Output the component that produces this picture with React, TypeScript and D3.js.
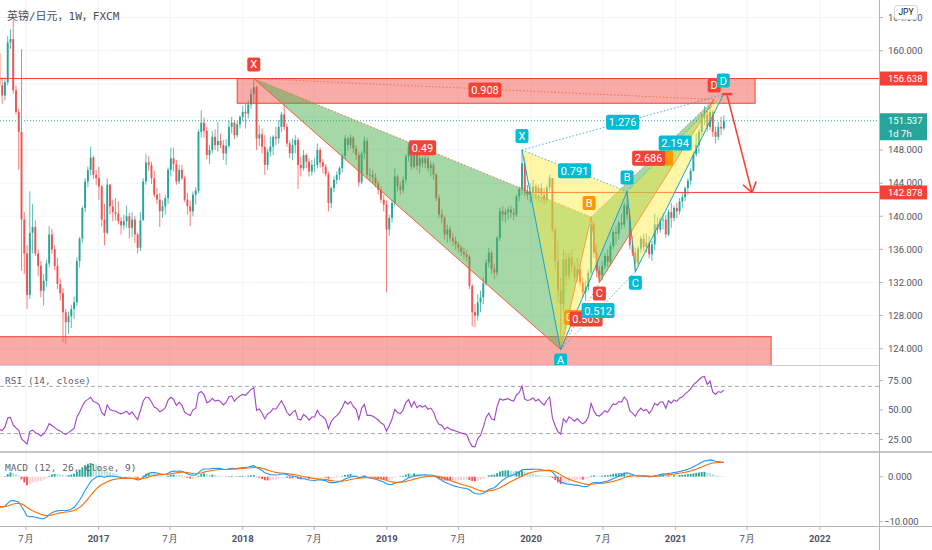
import React from 'react';
import * as d3 from 'd3';

// weekly GBP/JPY, first bar is the week of 2016-04-25
const firstWeek = new Date(2016, 3, 25);
const firstOpen = 159.7;

// closes before the visible range (Jun 2015 - Apr 2016), only used to warm up RSI / MACD
const warmupCloses = [
  194.5, 195.5, 193.8, 188.6, 188.0, 193.0, 192.3, 193.7, 194.0, 194.5,
  187.5, 186.0, 182.0, 185.5, 186.3, 182.8, 182.3, 183.7, 184.0, 186.2, 184.0, 185.6,
  186.3, 188.0, 185.7, 184.9, 181.5, 180.2, 178.6, 177.7, 171.0, 166.3, 168.7, 172.5,
  169.4, 164.3, 162.0, 157.5, 161.0, 162.2, 162.1, 160.2, 161.5, 153.7, 155.5, 159.7,
];

// [high, low, close] per week, open = previous close
const bars2016: [number, number, number][] = [
  [161.7, 155.0, 155.8], [156.8, 153.6, 154.6], [156.8, 154.0, 156.2], [161.8, 155.8, 161.0],
  [162.6, 160.2, 161.4], [163.7, 154.8, 155.2], [155.8, 152.3, 152.6], [153.0, 145.6, 150.2],
  [160.2, 133.4, 139.6], [140.5, 133.0, 135.5], [136.5, 128.8, 130.5], [143.0, 130.0, 138.0],
  [141.5, 135.5, 138.7], [139.5, 135.2, 135.5], [136.0, 132.8, 134.0], [134.6, 130.2, 131.0],
  [133.0, 129.2, 132.2], [134.8, 131.5, 134.3], [138.8, 133.8, 137.8], [138.5, 135.5, 136.0],
  [136.5, 133.5, 134.0], [135.0, 131.2, 131.8], [132.5, 129.8, 130.7], [131.3, 124.8, 128.4],
  [128.8, 124.6, 127.2], [128.5, 125.8, 127.9], [129.3, 126.5, 128.8], [130.3, 127.6, 129.6],
  [135.0, 129.2, 134.6], [137.5, 133.8, 137.3], [141.2, 136.8, 141.0], [144.6, 140.5, 144.2],
  [146.0, 143.5, 145.6], [148.4, 145.0, 147.1], [147.3, 144.5, 145.0], [145.6, 143.8, 144.6],
];
const bars2017: [number, number, number][] = [
  [146.0, 142.0, 143.6], [143.8, 138.8, 139.6], [141.5, 136.5, 138.0], [144.6, 137.8, 143.8],
  [143.9, 140.2, 141.2], [142.0, 139.4, 140.5], [142.2, 139.5, 140.3], [141.8, 139.0, 139.4],
  [139.9, 137.8, 138.9], [140.2, 138.4, 139.4], [141.3, 138.6, 140.0], [140.4, 137.3, 138.6],
  [140.5, 137.5, 139.6], [140.0, 136.8, 137.8], [138.0, 135.5, 136.2], [140.5, 135.8, 139.5],
  [144.6, 139.6, 144.2], [147.5, 143.8, 146.5], [147.3, 145.5, 146.2], [146.6, 143.9, 144.6],
  [145.5, 142.3, 142.6], [143.4, 141.5, 142.0], [142.8, 138.7, 140.6], [141.9, 139.8, 141.2],
  [142.6, 140.2, 142.2], [145.9, 141.5, 145.6], [148.3, 144.8, 147.0], [148.3, 145.4, 146.3],
  [146.8, 143.8, 144.2], [146.2, 143.9, 145.6], [146.2, 144.4, 144.6], [144.9, 141.7, 142.0],
  [142.8, 140.2, 141.2], [141.9, 138.8, 140.6], [143.0, 140.0, 142.6], [143.5, 141.4, 143.1],
  [150.5, 142.8, 150.2], [152.8, 149.5, 151.3], [151.9, 149.5, 150.3], [150.8, 146.9, 147.4],
  [148.6, 146.3, 148.0], [150.3, 147.6, 149.6], [150.5, 148.0, 148.6], [151.4, 147.8, 149.1],
  [150.0, 148.2, 148.6], [149.2, 146.8, 147.6], [149.3, 146.2, 148.5], [151.6, 148.2, 150.8],
  [152.0, 150.0, 151.3], [151.6, 149.3, 149.8], [151.5, 149.5, 151.1], [152.2, 150.6, 152.0],
];
const bars2018: [number, number, number][] = [
  [153.3, 151.5, 152.6], [153.6, 150.6, 152.4], [154.0, 151.8, 153.5], [155.4, 153.0, 154.8],
  [156.6, 153.6, 155.6], [155.8, 148.0, 149.4], [151.0, 148.5, 149.9], [150.6, 147.6, 148.4],
  [149.8, 145.0, 146.2], [148.2, 145.6, 147.8], [149.6, 147.2, 148.4], [149.8, 147.4, 149.6],
  [150.8, 148.6, 149.4], [151.6, 148.8, 150.8], [152.6, 150.2, 152.3], [153.5, 150.4, 150.8],
  [151.2, 148.4, 148.8], [149.2, 147.0, 147.6], [149.4, 146.8, 148.6], [149.8, 147.6, 149.2],
  [149.5, 143.3, 146.2], [147.2, 144.8, 145.8], [148.0, 145.5, 147.4], [147.6, 145.8, 146.6],
  [147.0, 144.8, 145.4], [146.8, 144.9, 146.2], [147.0, 145.3, 146.2], [148.8, 145.8, 148.0],
  [148.3, 145.9, 146.5], [146.9, 145.2, 146.0], [146.3, 144.8, 145.1], [145.4, 140.6, 141.6],
  [143.6, 141.0, 143.4], [144.8, 142.9, 144.4], [145.4, 143.9, 145.0], [146.0, 144.4, 145.8],
  [147.6, 145.3, 147.3], [149.8, 146.9, 149.4], [149.6, 147.9, 148.6], [149.9, 148.2, 149.5],
  [149.7, 147.6, 148.2], [148.6, 146.8, 147.4], [147.8, 143.6, 144.1], [147.9, 143.9, 147.6],
  [149.6, 146.9, 149.1], [149.4, 144.6, 145.0], [145.8, 144.2, 145.0], [145.6, 144.0, 144.7],
  [145.2, 143.5, 144.0], [144.3, 142.6, 143.2], [143.6, 141.6, 142.0], [142.6, 140.6, 141.4],
  [141.9, 130.8, 138.4],
];
const bars2019: [number, number, number][] = [
  [140.2, 137.6, 139.8], [142.0, 139.2, 141.6], [145.8, 141.2, 144.8], [145.0, 143.0, 143.6],
  [144.2, 142.6, 143.2], [144.8, 142.8, 144.4], [147.5, 144.0, 147.2], [148.8, 146.6, 148.4],
  [148.5, 145.6, 146.0], [148.6, 145.8, 148.2], [148.4, 145.6, 146.1], [147.6, 145.2, 147.0],
  [147.3, 145.9, 146.4], [147.6, 145.8, 147.0], [147.3, 145.4, 145.8], [146.6, 144.8, 146.2],
  [146.5, 144.4, 145.0], [145.2, 141.8, 142.2], [142.6, 139.8, 140.2], [140.8, 139.2, 139.8],
  [140.0, 137.2, 137.8], [139.0, 136.8, 138.4], [138.8, 136.9, 137.4], [138.0, 136.4, 137.0],
  [137.6, 136.0, 136.6], [136.9, 135.6, 136.2], [136.5, 135.2, 135.7], [136.2, 134.8, 135.4],
  [135.9, 134.6, 135.1], [135.3, 131.2, 131.6], [131.8, 126.7, 128.4], [129.4, 126.6, 128.0],
  [130.6, 127.4, 129.6], [131.0, 128.4, 130.2], [132.6, 129.4, 131.9], [134.8, 131.6, 134.4],
  [136.2, 133.8, 135.6], [135.8, 133.0, 133.6], [134.2, 132.4, 133.2], [137.6, 132.8, 137.4],
  [141.0, 137.0, 140.6], [141.2, 139.4, 140.2], [140.9, 139.2, 140.5], [141.2, 139.6, 140.8],
  [141.3, 139.8, 140.4], [141.0, 139.5, 140.2], [142.6, 139.9, 142.4], [143.6, 141.8, 143.3],
  [148.0, 142.6, 146.4], [147.2, 142.4, 143.0], [143.8, 142.0, 142.6], [144.0, 141.6, 142.9],
];
const bars2020: [number, number, number][] = [
  [144.4, 142.2, 143.6], [143.9, 142.0, 142.8], [143.8, 141.8, 143.4], [144.0, 141.6, 142.6],
  [143.4, 141.4, 142.0], [143.8, 141.6, 143.5], [145.0, 143.0, 144.6], [144.6, 138.0, 138.4],
  [138.6, 133.6, 134.6], [137.0, 129.6, 131.0], [132.6, 123.9, 129.4], [136.0, 128.6, 134.8],
  [135.6, 131.6, 132.8], [135.6, 132.4, 135.0], [136.0, 133.2, 134.0], [134.4, 132.0, 132.6],
  [135.0, 132.2, 133.6], [134.2, 131.6, 132.0], [132.6, 130.2, 130.8], [132.2, 129.8, 131.5],
  [133.6, 131.0, 133.2], [139.9, 132.9, 139.0], [139.4, 135.0, 135.6], [136.6, 132.6, 133.4],
  [134.0, 132.0, 132.9], [134.6, 132.3, 134.0], [135.6, 133.6, 135.2], [136.0, 133.8, 134.5],
  [136.8, 134.0, 136.4], [138.4, 136.0, 138.1], [138.8, 136.6, 137.9], [139.4, 137.2, 139.2],
  [140.3, 138.4, 139.0], [141.6, 138.6, 141.3], [143.0, 139.6, 140.2], [141.0, 136.0, 136.5],
  [137.6, 135.2, 135.6], [136.2, 133.2, 134.3], [136.4, 134.0, 136.1], [137.6, 135.6, 137.3],
  [137.9, 135.8, 136.3], [137.9, 135.6, 136.8], [137.6, 134.9, 135.4], [137.0, 134.6, 136.6],
  [140.3, 135.9, 139.0], [139.9, 137.8, 138.4], [139.9, 138.0, 139.6], [140.4, 138.4, 139.6],
  [140.2, 137.4, 137.8], [140.8, 137.6, 140.5], [141.6, 138.6, 139.8], [141.3, 139.4, 141.0],
];
const bars2021: [number, number, number][] = [
  [141.6, 139.8, 140.6], [142.2, 140.2, 141.8], [142.8, 141.0, 142.3], [143.6, 141.8, 143.4],
  [144.6, 142.6, 144.3], [145.8, 143.8, 145.5], [147.8, 145.4, 147.5], [150.0, 147.2, 148.6],
  [150.5, 147.6, 150.2], [152.4, 149.8, 151.8], [153.3, 151.0, 152.3], [152.8, 150.2, 150.8],
  [153.2, 150.4, 152.6], [152.8, 149.6, 150.2], [150.8, 148.8, 149.6], [151.4, 149.2, 150.8],
  [152.0, 149.8, 150.6], [152.2, 150.4, 151.54],
];

const priceTicks = [124, 128, 132, 136, 140, 144, 148, 152, 156, 160, 164];
const rsiTicks = [25, 50, 75];
const rsiBands = [30, 70];
const macdTicks = [0, -10];
const timeTicks: [string, string][] = [
  ['2016-07-01', '7月'], ['2017-01-01', '2017'], ['2017-07-01', '7月'], ['2018-01-01', '2018'],
  ['2018-07-01', '7月'], ['2019-01-01', '2019'], ['2019-07-01', '7月'], ['2020-01-01', '2020'],
  ['2020-07-01', '7月'], ['2021-01-01', '2021'], ['2021-07-01', '7月'], ['2022-01-01', '2022'],
];

const lastPrice = 151.537;
const countdown = '1d 7h';
const topLevel = 156.638;
const targetLevel = 142.878;
// zones: [fromBar, toBar, topPrice, bottomPrice]
const zones: [number, number, number, number][] = [
  [86.0, 273.3, 156.638, 153.65],
  [-3, 279.1, 125.45, 120],
];
// harmonic patterns: [label, bar, price]
const redPattern: [string, number, number][] = [
  ['X', 92, 156.64], ['A', 203, 123.9], ['B', 214, 139.9], ['C', 217, 132.0], ['D', 258.5, 154.1],
];
const redRatios = ['0.49', '0.503', '2.686', '0.908']; // XB, AC, BD, XD
const cyanPattern: [string, number, number][] = [
  ['X', 189, 148.0], ['A', 203, 123.9], ['B', 227, 143.0], ['C', 230, 133.3], ['D', 261.8, 154.7],
];
const cyanRatios = ['0.791', '0.512', '2.194', '1.276'];
const projection: [number, number][] = [[263.2, 154.6], [272.2, 142.85]];

const PLOT_R = 879;
const MAIN_B = 365;
const RSI_B = 452;
const MACD_B = 526;

const UP = '#26a69a';
const DOWN = '#ef5350';
const RED = '#f44336';
const CYAN = '#00bcd4';
const ORANGE = '#ff9800';
const AXIS_TXT = '#50535e';
const GRID = '#f0f3fa';
const FONT = 'Roboto, "Noto Sans", sans-serif';
const MONO = '"DejaVu Sans Mono", "Noto Sans CJK SC", monospace';

function ema(vals: number[], n: number) {
  const k = 2 / (n + 1);
  const out: number[] = [];
  let e = vals[0];
  vals.forEach((v, i) => {
    e = i === 0 ? v : v * k + e * (1 - k);
    out.push(e);
  });
  return out;
}

function rsiWilder(closes: number[], n: number) {
  const out = closes.map(() => NaN);
  let g = 0, l = 0;
  for (let i = 1; i <= n; i++) {
    const d = closes[i] - closes[i - 1];
    if (d > 0) g += d; else l -= d;
  }
  g /= n; l /= n;
  out[n] = 100 - 100 / (1 + g / l);
  for (let i = n + 1; i < closes.length; i++) {
    const d = closes[i] - closes[i - 1];
    g = (g * (n - 1) + Math.max(d, 0)) / n;
    l = (l * (n - 1) + Math.max(-d, 0)) / n;
    out[i] = l === 0 ? 100 : 100 - 100 / (1 + g / l);
  }
  return out;
}

const tagW = (t: string) => t.length * 5.6 + 5;

const Tag = ({ x, y, text, fill, w, h = 14, fs = 11 }: any) => (
  <g>
    <rect x={x - w / 2} y={y - h / 2} width={w} height={h} rx={2} fill={fill} />
    {text ? (
      <text x={x} y={y} dy="0.36em" textAnchor="middle" fill="#fff" fontSize={fs} fontFamily={FONT}>{text}</text>
    ) : null}
  </g>
);

export default function App() {
  const bars = [...bars2016, ...bars2017, ...bars2018, ...bars2019, ...bars2020, ...bars2021];
  const n = bars.length;
  const opens = bars.map((b, i) => (i === 0 ? firstOpen : bars[i - 1][2]));

  const x = d3.scaleLinear().domain([0, n - 1]).range([-0.6, -0.6 + 2.765 * (n - 1)]);
  const xt = d3.scaleTime()
    .domain([firstWeek, d3.timeDay.offset(firstWeek, 7 * (n - 1))])
    .range(x.range());
  const y = d3.scaleLinear().domain([124, 160]).range([348.7, 50.7]);
  const yR = d3.scaleLinear().domain([25, 75]).range([439.5, 380.5]);
  const yM = d3.scaleLinear().domain([-10, 0]).range([521.7, 476.7]);
  const parse = d3.timeParse('%Y-%m-%d');
  const fmt = d3.format('.3f');

  const closesAll = [...warmupCloses, ...bars.map((b) => b[2])];
  const off = warmupCloses.length;
  const rsi = rsiWilder(closesAll, 14).slice(off);
  const e12 = ema(closesAll, 12);
  const e26 = ema(closesAll, 26);
  const macdAll = e12.map((v, i) => v - e26[i]);
  const sigAll = ema(macdAll, 9);
  const macd = macdAll.slice(off);
  const sig = sigAll.slice(off);
  const histAll = macdAll.map((m, i) => m - sigAll[i]);
  const hist = histAll.slice(off);
  const histPrev = histAll.slice(off - 1);

  const rsiLine = d3.line<number>().defined((v) => !isNaN(v)).x((_, i) => x(i)).y((v) => yR(v));
  const macdLine = d3.line<number>().x((_, i) => x(i)).y((v) => yM(v));

  const pt = (p: [string, number, number]) => [x(p[1]), y(p[2])] as [number, number];
  const mid = (a: [number, number], b: [number, number]) => [(a[0] + b[0]) / 2, (a[1] + b[1]) / 2];

  const drawPattern = (pts: [string, number, number][], line: string, fill: string, key: string) => {
    const [X, A, B, C, D] = pts.map(pt);
    const poly = (ps: [number, number][]) => ps.map((p) => p.join(',')).join(' ');
    const legs: [number, number][][] = [[X, A], [A, B], [B, C], [C, D]];
    const dots: [number, number][][] = [[X, B], [A, C], [B, D], [X, D]];
    return (
      <g key={key}>
        <polygon points={poly([X, A, B])} fill={fill} />
        <polygon points={poly([B, C, D])} fill={fill} />
        {legs.map((s, i) => (
          <line key={'l' + i} x1={s[0][0]} y1={s[0][1]} x2={s[1][0]} y2={s[1][1]} stroke={line} strokeWidth={1} />
        ))}
        {dots.map((s, i) => (
          <line key={'d' + i} x1={s[0][0]} y1={s[0][1]} x2={s[1][0]} y2={s[1][1]} stroke={line} strokeWidth={1} strokeDasharray="1.5 2" opacity={0.8} />
        ))}
      </g>
    );
  };

  // shift: per ratio label nudge, in pixels
  const ratioTags = (pts: [string, number, number][], ratios: string[], fill: string, shift: number[][]) => {
    const [X, A, B, C, D] = pts.map(pt);
    const segs = [[X, B], [A, C], [B, D], [X, D]] as [number, number][][];
    return segs.map((s, i) => {
      const m = mid(s[0], s[1]);
      return <Tag key={fill + i} x={m[0] + shift[i][0]} y={m[1] + shift[i][1]} text={ratios[i]} fill={fill} w={tagW(ratios[i])} h={15} fs={11} />;
    });
  };

  const pointTags = (pts: [string, number, number][], fill: string, skip: string[] = []) =>
    pts.filter((p) => !skip.includes(p[0])).map((p) => {
      const [px, py] = pt(p);
      const above = p[0] === 'X' || p[0] === 'B' || p[0] === 'D';
      return <Tag key={fill + p[0]} x={px} y={above ? py - 14 : py + 11} text={p[0]} fill={fill} w={13} h={14} fs={11} />;
    });

  const arrowA: [number, number] = [x(projection[0][0]), y(projection[0][1])];
  const arrowB: [number, number] = [x(projection[1][0]), y(projection[1][1])];
  const ang = Math.atan2(arrowB[1] - arrowA[1], arrowB[0] - arrowA[0]);
  const head = [ang + Math.PI - 0.6, ang + Math.PI + 0.6].map((a) => [arrowB[0] + 12 * Math.cos(a), arrowB[1] + 12 * Math.sin(a)]);

  const histColor = (v: number, prev: number) =>
    v >= 0 ? (v >= prev ? '#26a69a' : '#b2dfdb') : (v <= prev ? '#ff5252' : '#ffcdd2');

  const redB = pt(redPattern[2]);
  const redAC = mid(pt(redPattern[1]), pt(redPattern[3]));
  const redBD = mid(pt(redPattern[2]), pt(redPattern[4]));
  const dPt = pt(cyanPattern[4]);

  // axis labels hidden behind the price badges
  const badgeYs = [y(topLevel), y(lastPrice) + 6];
  const shownTicks = priceTicks.filter((p) => badgeYs.every((b) => Math.abs(y(p) - b) > 11));

  return (
    <div style={{ position: 'absolute', left: 0, top: 0, width: 932, height: 550, background: '#fff' }}>
      <svg width={932} height={550} style={{ display: 'block' }}>
        <defs>
          <clipPath id="mainClip"><rect x={0} y={0} width={PLOT_R} height={MAIN_B} /></clipPath>
          <clipPath id="rsiClip"><rect x={0} y={MAIN_B} width={PLOT_R} height={RSI_B - MAIN_B} /></clipPath>
          <clipPath id="macdClip"><rect x={0} y={RSI_B} width={PLOT_R} height={MACD_B - RSI_B} /></clipPath>
        </defs>
        <rect width={932} height={550} fill="#fff" />

        {/* grid */}
        {timeTicks.map(([d]) => (
          <line key={d} x1={xt(parse(d)!)} x2={xt(parse(d)!)} y1={0} y2={MACD_B} stroke={GRID} />
        ))}
        {priceTicks.map((p) => (
          <line key={p} x1={0} x2={PLOT_R} y1={y(p)} y2={y(p)} stroke={GRID} />
        ))}

        {/* main pane */}
        <g clipPath="url(#mainClip)">
          {bars.map((b, i) => {
            const o = opens[i];
            const [h, l, c] = b;
            const col = c >= o ? UP : DOWN;
            const cx = x(i);
            const top = y(Math.max(o, c));
            const bh = Math.max(0.8, Math.abs(y(o) - y(c)));
            return (
              <g key={i}>
                <line x1={cx} x2={cx} y1={y(h)} y2={y(l)} stroke={col} strokeWidth={1} opacity={0.75} />
                <rect x={cx - 0.95} y={top} width={1.9} height={bh} fill={col} />
              </g>
            );
          })}

          {zones.map((z, i) => (
            <rect key={i} x={x(z[0])} y={y(z[2])} width={x(z[1]) - x(z[0])} height={y(z[3]) - y(z[2])}
              fill="rgba(242,70,60,0.45)" stroke={RED} strokeWidth={1} />
          ))}

          <line x1={0} x2={PLOT_R} y1={y(topLevel)} y2={y(topLevel)} stroke={RED} strokeWidth={1} />
          <line x1={x(190)} x2={PLOT_R} y1={y(targetLevel)} y2={y(targetLevel)} stroke={RED} strokeWidth={1} />
          <line x1={0} x2={PLOT_R} y1={y(lastPrice)} y2={y(lastPrice)} stroke={UP} strokeWidth={1} strokeDasharray="1 2" />

          {drawPattern(redPattern, '#f0603a', 'rgba(76,175,80,0.5)', 'red')}
          {drawPattern(cyanPattern, '#14a5cc', 'rgba(255,235,59,0.45)', 'cyan')}

          <line x1={dPt[0] - 1} x2={dPt[0] + 9} y1={dPt[1] - 0.5} y2={dPt[1] - 0.5} stroke={RED} strokeWidth={2.5} />
          <line x1={arrowA[0]} y1={arrowA[1]} x2={arrowB[0]} y2={arrowB[1]} stroke={RED} strokeWidth={1.6} />
          {head.map((h, i) => (
            <line key={i} x1={arrowB[0]} y1={arrowB[1]} x2={h[0]} y2={h[1]} stroke={RED} strokeWidth={1.6} />
          ))}

          {/* orange copies peek out from behind the red ratio labels */}
          <g>
            <rect x={redAC[0] - 16} y={redAC[1] - 6} width={33} height={15} rx={2} fill={ORANGE} />
            <text x={redAC[0] - 14} y={redAC[1] + 1.5} dy="0.36em" fill="#fff" fontSize={11} fontFamily={FONT}>0.</text>
          </g>
          <Tag x={redBD[0] + 4} y={redBD[1]} text="" fill={ORANGE} w={tagW('2.686')} h={15} />
          {ratioTags(redPattern, redRatios, RED, [[0, 0], [6, 3], [-4, 0], [1, 1]])}
          {pointTags(redPattern, RED, ['A', 'B'])}
          <Tag x={redB[0] - 2} y={redB[1] - 14} text="B" fill={ORANGE} w={13} h={14} fs={11} />
          {ratioTags(cyanPattern, cyanRatios, CYAN, [[0, 0], [0, 0], [0, 0], [0, 0]])}
          {pointTags(cyanPattern, CYAN)}
        </g>

        <text x={7} y={20} fontSize={11} fontFamily={MONO} fill="#4a4e59">英镑/日元，1W，FXCM</text>

        {/* RSI pane */}
        {rsiBands.map((v) => (
          <line key={v} x1={0} x2={PLOT_R} y1={yR(v)} y2={yR(v)} stroke="#a3a6af" strokeDasharray="4 3" />
        ))}
        <g clipPath="url(#rsiClip)">
          <path d={rsiLine(rsi) || ''} fill="none" stroke="#a044c8" strokeWidth={1.1} />
        </g>
        <text x={5} y={384} fontSize={9.5} fontFamily={MONO} fill="#5d606b">RSI (14, close)</text>

        {/* MACD pane */}
        <g clipPath="url(#macdClip)">
          {hist.map((v, i) => (
            <rect key={i} x={x(i) - 0.95} y={Math.min(yM(v), yM(0))} width={1.9}
              height={Math.max(0.5, Math.abs(yM(v) - yM(0)))} fill={histColor(v, histPrev[i])} />
          ))}
          <path d={macdLine(macd) || ''} fill="none" stroke="#2196f3" strokeWidth={1.1} />
          <path d={macdLine(sig) || ''} fill="none" stroke="#ff6d00" strokeWidth={1.1} />
        </g>
        <text x={5} y={471} fontSize={9.5} fontFamily={MONO} fill="#5d606b">MACD (12, 26, close, 9)</text>

        {/* pane borders */}
        <line x1={0} x2={PLOT_R} y1={MAIN_B + 0.5} y2={MAIN_B + 0.5} stroke="#c9ccd3" />
        <line x1={0} x2={932} y1={RSI_B} y2={RSI_B} stroke="#b2b5be" strokeWidth={1.6} />
        <line x1={0} x2={932} y1={MACD_B + 0.5} y2={MACD_B + 0.5} stroke="#b2b5be" />
        <line x1={PLOT_R + 0.5} x2={PLOT_R + 0.5} y1={0} y2={550} stroke="#b2b5be" />

        {/* price axis */}
        {priceTicks.map((p) => (
          <line key={'t' + p} x1={PLOT_R} x2={PLOT_R + 4} y1={y(p)} y2={y(p)} stroke="#b2b5be" />
        ))}
        {shownTicks.map((p) => (
          <text key={p} x={888} y={y(p)} dy="0.35em" fontSize={9.5} fontFamily={FONT} fill={AXIS_TXT}>{fmt(p)}</text>
        ))}
        {rsiTicks.map((v) => (
          <g key={v}>
            <line x1={PLOT_R} x2={PLOT_R + 4} y1={yR(v)} y2={yR(v)} stroke="#b2b5be" />
            <text x={888} y={yR(v)} dy="0.35em" fontSize={9.5} fontFamily={FONT} fill={AXIS_TXT}>{v.toFixed(2)}</text>
          </g>
        ))}
        {macdTicks.map((v) => (
          <g key={v}>
            <line x1={PLOT_R} x2={PLOT_R + 4} y1={yM(v)} y2={yM(v)} stroke="#b2b5be" />
            <text x={v < 0 ? 884 : 888} y={yM(v)} dy="0.35em" fontSize={9.5} fontFamily={FONT} fill={AXIS_TXT}>{fmt(v)}</text>
          </g>
        ))}

        {/* price badges */}
        <rect x={PLOT_R + 1} y={y(topLevel) - 7} width={47} height={14} fill={RED} />
        <text x={888} y={y(topLevel)} dy="0.35em" fontSize={9.5} fontFamily={FONT} fill="#fff">{fmt(topLevel)}</text>
        <rect x={PLOT_R + 1} y={y(lastPrice) - 7.5} width={47} height={27} fill={UP} />
        <text x={888} y={y(lastPrice)} dy="0.35em" fontSize={9.5} fontFamily={FONT} fill="#fff">{fmt(lastPrice)}</text>
        <text x={888} y={y(lastPrice) + 12.5} dy="0.35em" fontSize={9.5} fontFamily={FONT} fill="#fff">{countdown}</text>
        <rect x={PLOT_R + 1} y={y(targetLevel) - 7} width={47} height={14} fill={RED} />
        <text x={888} y={y(targetLevel)} dy="0.35em" fontSize={9.5} fontFamily={FONT} fill="#fff">{fmt(targetLevel)}</text>

        <rect x={894.5} y={5.5} width={23} height={14} rx={3} fill="#fff" stroke="#d1d4dc" />
        <text x={906} y={12.5} dy="0.35em" textAnchor="middle" fontSize={8.5} fontFamily={FONT} fill="#131722">JPY</text>

        {/* time axis */}
        {timeTicks.map(([d, label]) => {
          const tx = xt(parse(d)!);
          return (
            <g key={d}>
              <line x1={tx} x2={tx} y1={MACD_B} y2={MACD_B + 4} stroke="#b2b5be" />
              <text x={tx} y={541.5} textAnchor="middle" fontSize={9.5} fontFamily={FONT}
                fontWeight={label === '7月' ? 400 : 700} fill={AXIS_TXT}>{label}</text>
            </g>
          );
        })}
      </svg>
    </div>
  );
}
